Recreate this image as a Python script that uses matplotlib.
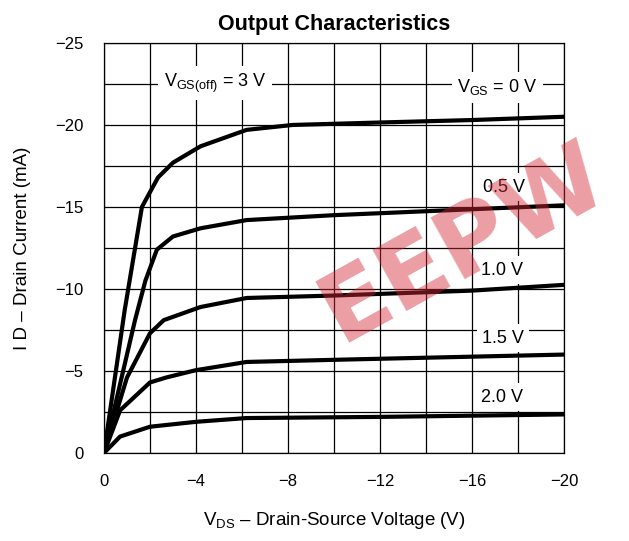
import matplotlib
matplotlib.use("Agg")
import matplotlib.pyplot as plt

plt.rcParams['font.family'] = ['Liberation Sans', 'DejaVu Sans']
plt.rcParams['mathtext.fontset'] = 'custom'
plt.rcParams['mathtext.rm'] = 'Liberation Sans'
plt.rcParams['mathtext.it'] = 'Liberation Sans'

# curves (V_DS in V, I_D in mA)
vgs0_v = [0, -0.9, -1.65, -2.35, -3.0, -4.2, -6.2, -8.2, -12, -16, -20]
vgs0_i = [0, -8.7, -15.0, -16.8, -17.7, -18.7, -19.7, -20.0, -20.15, -20.3, -20.5]

vgs05_v = [0, -1.35, -1.8, -2.3, -3.0, -4.2, -6.2, -10, -20]
vgs05_i = [0, -8.1, -10.5, -12.4, -13.2, -13.7, -14.2, -14.5, -15.1]

vgs10_v = [0, -1.0, -2.0, -2.6, -4.2, -6.2, -10, -16, -20]
vgs10_i = [0, -4.6, -7.3, -8.1, -8.9, -9.45, -9.6, -9.9, -10.25]

vgs15_v = [0, -0.7, -2.0, -2.7, -4.0, -6.2, -10.6, -20]
vgs15_i = [0, -2.6, -4.3, -4.6, -5.05, -5.55, -5.7, -6.0]

vgs20_v = [0, -0.7, -2.0, -4.0, -6.2, -12, -20]
vgs20_i = [0, -1.0, -1.6, -1.9, -2.13, -2.2, -2.35]

x_ticks = [0, -4, -8, -12, -16, -20]
y_ticks = [0, -5, -10, -15, -20, -25]


def tick_text(t, shown):
    if t not in shown:
        return ""
    return "0" if t == 0 else "\u2212%g" % abs(t)


fig = plt.figure(figsize=(6.29, 5.41), dpi=100)
ax = fig.add_axes([0.1653, 0.1627, 0.7313, 0.7579])

ax.set_xlim(0, -20)
ax.set_ylim(0, -25)
ax.set_xticks([-2 * k for k in range(11)])
ax.set_yticks([-2.5 * k for k in range(11)])
ax.grid(True, color='black', linewidth=0.9)
ax.set_axisbelow(True)
ax.tick_params(length=0, labelsize=12, colors='black')
ax.tick_params(axis='x', pad=15)
ax.tick_params(axis='y', pad=15)
ax.set_xticklabels([tick_text(t, x_ticks) for t in ax.get_xticks()])
ax.set_yticklabels([tick_text(t, y_ticks) for t in ax.get_yticks()])
for s in ax.spines.values():
    s.set_linewidth(0.9)

for v, i in [(vgs0_v, vgs0_i), (vgs05_v, vgs05_i), (vgs10_v, vgs10_i),
             (vgs15_v, vgs15_i), (vgs20_v, vgs20_i)]:
    ax.plot(v, i, color='black', linewidth=3, solid_joinstyle='round',
            solid_capstyle='round', zorder=3)

box = dict(facecolor='white', edgecolor='none', boxstyle='square,pad=0.3')
ax.text(-4.83, -22.55, r"V$_{\rm GS(off)}$ = 3 V", fontsize=13, ha='center', va='center', bbox=box, zorder=2)
ax.text(-17.1, -22.3, r"V$_{\rm GS}$ = 0 V", fontsize=13, ha='center', va='center', bbox=box, zorder=2)
ax.text(-17.4, -16.2, "0.5 V", fontsize=13, ha='center', va='center', bbox=box, zorder=2)
ax.text(-17.3, -11.15, "1.0 V", fontsize=13, ha='center', va='center', bbox=box, zorder=2)
ax.text(-17.35, -7.0, "1.5 V", fontsize=13, ha='center', va='center', bbox=box, zorder=2)
ax.text(-17.3, -3.4, "2.0 V", fontsize=13, ha='center', va='center', bbox=box, zorder=2)

ax.set_title("Output Characteristics", fontsize=15.5, fontweight='bold', pad=9)
ax.set_xlabel("V$_{\\rm DS}$ \u2013 Drain-Source Voltage (V)", fontsize=13.5, labelpad=15)
ax.set_ylabel("I D \u2013 Drain Current (mA)", fontsize=13.5, labelpad=17)

# watermark
fig.text(0.5405, 0.366, "EEPW", fontsize=70, fontweight='heavy', color='#d42a35',
         family='DejaVu Sans', alpha=0.45, rotation=29, rotation_mode='anchor',
         ha='left', va='baseline', zorder=10)

fig.savefig("out.png", dpi=100)
